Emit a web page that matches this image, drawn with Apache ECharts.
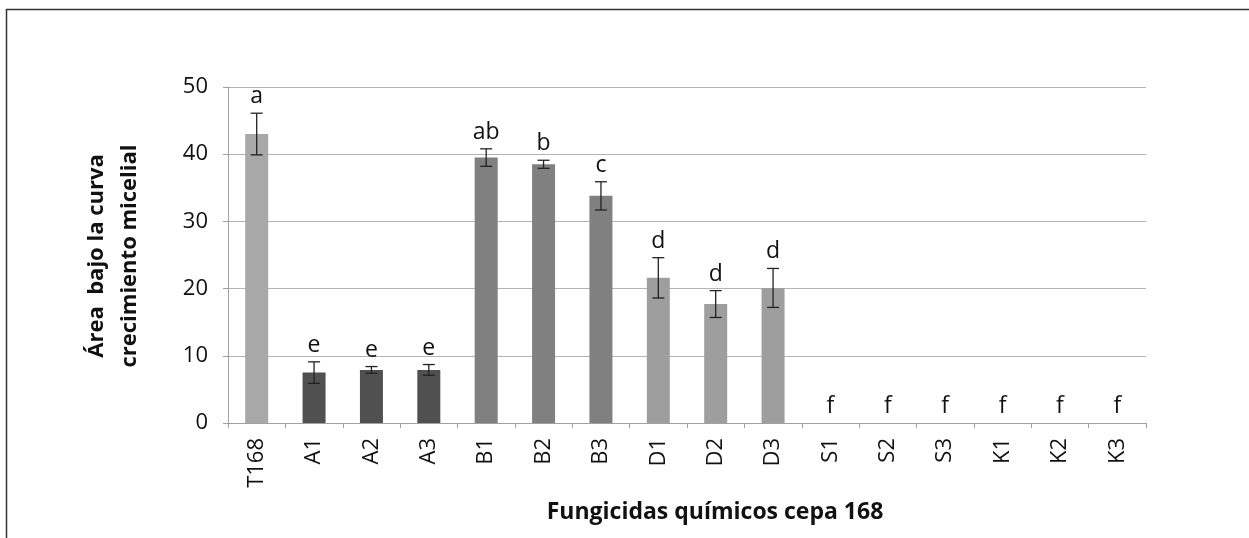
<!DOCTYPE html>
<html>
<head>
<meta charset="utf-8">
<script src="https://cdn.jsdelivr.net/npm/echarts@6/dist/echarts.min.js"></script>
<style>
    html, body { margin: 0; padding: 0; background: #fff; }
    #chart { width: 1249px; height: 538px; }
</style>
</head>
<body>
<div id="chart"></div>
<script>
// datos
const categories = ['T168', 'A1', 'A2', 'A3', 'B1', 'B2', 'B3', 'D1', 'D2', 'D3', 'S1', 'S2', 'S3', 'K1', 'K2', 'K3'];
const means = [43.0, 7.5, 7.9, 7.9, 39.5, 38.5, 33.8, 21.6, 17.7, 20.1, 0, 0, 0, 0, 0, 0];
const errors = [3.1, 1.6, 0.5, 0.8, 1.3, 0.6, 2.1, 3.0, 2.0, 2.9, 0, 0, 0, 0, 0, 0];
const letters = ['a', 'e', 'e', 'e', 'ab', 'b', 'c', 'd', 'd', 'd', 'f', 'f', 'f', 'f', 'f', 'f'];
const groupColors = ['#a8a8a8', '#505050', '#505050', '#505050', '#808080', '#808080', '#808080',
    '#9e9e9e', '#9e9e9e', '#9e9e9e', '#999', '#999', '#999', '#999', '#999', '#999'];

const font = '"Open Sans", "Noto Sans", sans-serif';
const chart = echarts.init(document.getElementById('chart'));

const option = {
    animation: false,
    backgroundColor: '#fff',
    grid: {
        left: 228,
        right: 103,
        top: 87,
        bottom: 115
    },
    xAxis: {
        type: 'category',
        data: categories,
        axisLine: { lineStyle: { color: '#a0a0a0', width: 1 } },
        axisTick: { show: true, length: 5, lineStyle: { color: '#a0a0a0' } },
        axisLabel: {
            rotate: 90,
            margin: 15,
            color: '#111',
            fontSize: 22,
            fontFamily: font
        }
    },
    yAxis: {
        type: 'value',
        min: 0,
        max: 50,
        interval: 10,
        axisLine: { show: true, lineStyle: { color: '#a0a0a0' } },
        axisTick: { show: true, length: 5, lineStyle: { color: '#a0a0a0' } },
        axisLabel: {
            margin: 20,
            color: '#111',
            fontSize: 22,
            fontFamily: font
        },
        splitLine: { lineStyle: { color: '#b4b4b4', width: 1 } }
    },
    series: [
        {
            type: 'bar',
            barWidth: 23,
            data: means.map((v, i) => ({ value: v, itemStyle: { color: groupColors[i] } }))
        },
        {
            // barras de error y letras
            type: 'custom',
            data: means.map((v, i) => [i, v, errors[i], letters[i]]),
            renderItem(params, api) {
                const i = api.value(0);
                const m = api.value(1);
                const e = api.value(2);
                const top = api.coord([i, m + e]);
                const bot = api.coord([i, m - e]);
                const children = [];
                if (e > 0) {
                    const st = { stroke: '#222', lineWidth: 1.3 };
                    children.push(
                        { type: 'line', shape: { x1: top[0], y1: top[1], x2: bot[0], y2: bot[1] }, style: st },
                        { type: 'line', shape: { x1: top[0] - 6, y1: top[1], x2: top[0] + 6, y2: top[1] }, style: st },
                        { type: 'line', shape: { x1: bot[0] - 6, y1: bot[1], x2: bot[0] + 6, y2: bot[1] }, style: st }
                    );
                }
                children.push({
                    type: 'text',
                    style: {
                        x: top[0],
                        y: top[1] - 5,
                        text: letters[i],
                        align: 'center',
                        verticalAlign: 'bottom',
                        fill: '#111',
                        font: '23px ' + font
                    }
                });
                return { type: 'group', children };
            },
            z: 5
        }
    ],
    graphic: [
        {
            type: 'rect',
            shape: { x: 6.5, y: 9.5, width: 1400, height: 700 },
            style: { fill: 'none', stroke: '#333', lineWidth: 1.5 },
            silent: true
        },
        {
            type: 'text',
            x: 97,
            y: 256,
            rotation: Math.PI / 2,
            style: {
                text: 'Área  bajo la curva',
                align: 'center',
                verticalAlign: 'middle',
                fill: '#111',
                font: 'bold 22px ' + font
            }
        },
        {
            type: 'text',
            x: 130,
            y: 256,
            rotation: Math.PI / 2,
            style: {
                text: 'crecimiento micelial',
                align: 'center',
                verticalAlign: 'middle',
                fill: '#111',
                font: 'bold 22px ' + font
            }
        },
        {
            type: 'text',
            x: 715,
            y: 512,
            style: {
                text: 'Fungicidas químicos cepa 168',
                align: 'center',
                verticalAlign: 'middle',
                fill: '#111',
                font: 'bold 23px ' + font
            }
        }
    ]
};

chart.setOption(option);
</script>
</body>
</html>
